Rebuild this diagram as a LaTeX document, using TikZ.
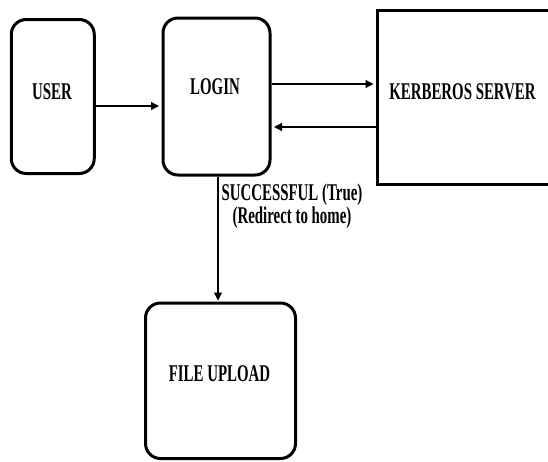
\documentclass[tikz,border=0pt]{standalone}
\usepackage{fontspec}
\usetikzlibrary{arrows.meta}
\newfontfamily\diagfont{Liberation Serif}[FakeStretch=0.62]
\begin{document}
\begin{tikzpicture}[x=1pt,y=-1pt,
  box/.style={draw, line width=3pt, rounded corners=15pt, inner sep=0pt},
  sqbox/.style={draw, line width=3pt, inner sep=0pt},
  txt/.style={font=\diagfont\bfseries\fontsize{24}{23}\selectfont, inner sep=0pt, anchor=base},
  arr/.style={line width=1.2pt, -{Triangle[length=8pt,width=8pt]}, shorten >=2.5pt}]
\clip (0,0) rectangle (548,461);
\fill[white] (0,0) rectangle (548,461);

% boxes
\node[box, minimum width=83pt, minimum height=154pt] (user) at (52.75,96.5) {};
\node[box, minimum width=107pt, minimum height=157pt] (login) at (216.5,96.5) {};
\node[sqbox, minimum width=200pt, minimum height=174pt] (kerb) at (477.5,97) {};
\node[box, minimum width=150pt, minimum height=155.5pt] (upload) at (220.5,380.75) {};

% box texts
\node[txt] (tuser) at (52,99) {USER};
\node[txt] (tlogin) at (215,94) {LOGIN};
\node[txt] (tkerb) at (462.5,99) {KERBEROS SERVER};
\node[txt] (tupload) at (219.5,381) {FILE UPLOAD};

% connectors
\draw[arr] ([yshift=-9.5pt]user.east) -- (login.west |- {(0,106)});
\draw[arr] ([yshift=12.5pt]login.east) -- (kerb.west |- {(0,84)});
\draw[arr] (kerb.west |- {(0,127)}) -- ([yshift=-30.5pt]login.east);
\coordinate (down) at (218,303);
\draw[arr] (login.south -| down) -- (down);

% condition label
\node[txt, anchor=base, align=center] (cond) at (292,223) {SUCCESSFUL (True)\\(Redirect to home)};
\end{tikzpicture}
\end{document}
